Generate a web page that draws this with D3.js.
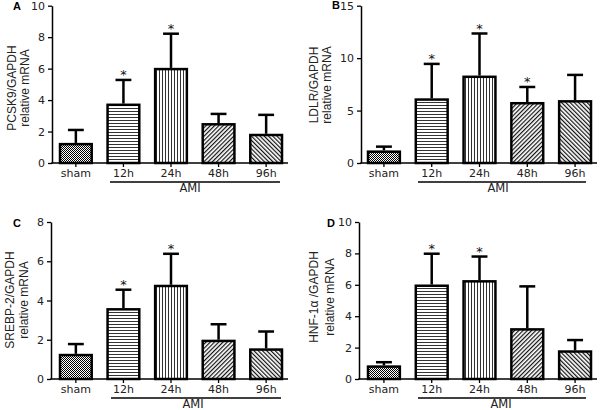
<!DOCTYPE html>
<html><head><meta charset="utf-8">
<script src="https://cdn.jsdelivr.net/npm/d3@7"></script>
<style>body{margin:0;background:#fff}svg{display:block}</style>
</head><body><svg id="c" width="600" height="410"></svg>
<script>
// ---- data ----
const categories = ["sham", "12h", "24h", "48h", "96h"];
const groupLabel = "AMI";

const meansA = [1.2, 3.7, 5.97, 2.46, 1.78];
const errTopA = [2.1, 5.28, 8.22, 3.12, 3.06];
const starsA = ["", "*", "*", "", ""];
const ticksA = [0, 2, 4, 6, 8, 10];

const meansB = [1.08, 6.05, 8.22, 5.7, 5.88];
const errTopB = [1.56, 9.45, 12.35, 7.25, 8.4];
const starsB = ["", "*", "*", "*", ""];
const ticksB = [0, 5, 10, 15];

const meansC = [1.22, 3.55, 4.74, 1.94, 1.5];
const errTopC = [1.78, 4.55, 6.38, 2.79, 2.42];
const starsC = ["", "*", "*", "", ""];
const ticksC = [0, 2, 4, 6, 8];

const meansD = [0.79, 5.94, 6.22, 3.16, 1.75];
const errTopD = [1.07, 7.98, 7.8, 5.9, 2.48];
const starsD = ["", "*", "*", "", ""];
const ticksD = [0, 2, 4, 6, 8, 10];

const patternIds = ["pChk", "pHor", "pVer", "pDiagA", "pDiagB"];

// ---- drawing ----
const svg = d3.select("#c");
const defs = svg.append("defs");

// checker
const pc = defs.append("pattern").attr("id", "pChk").attr("patternUnits", "userSpaceOnUse")
  .attr("width", 2).attr("height", 2);
pc.append("rect").attr("width", 2).attr("height", 2).attr("fill", "#fff");
pc.append("rect").attr("width", 1).attr("height", 1).attr("fill", "#000");
pc.append("rect").attr("x", 1).attr("y", 1).attr("width", 1).attr("height", 1).attr("fill", "#000");
// horizontal
const ph = defs.append("pattern").attr("id", "pHor").attr("patternUnits", "userSpaceOnUse")
  .attr("width", 4).attr("height", 3);
ph.append("rect").attr("width", 4).attr("height", 3).attr("fill", "#fff");
ph.append("line").attr("x1", 0).attr("x2", 4).attr("y1", 0.5).attr("y2", 0.5).attr("stroke", "#333").attr("stroke-width", 1);
// vertical
const pv = defs.append("pattern").attr("id", "pVer").attr("patternUnits", "userSpaceOnUse")
  .attr("width", 3).attr("height", 4);
pv.append("rect").attr("width", 3).attr("height", 4).attr("fill", "#fff");
pv.append("line").attr("y1", 0).attr("y2", 4).attr("x1", 0.5).attr("x2", 0.5).attr("stroke", "#333").attr("stroke-width", 1);
// diagonals
[["pDiagA", 45], ["pDiagB", -45]].forEach(([id, ang]) => {
  const p = defs.append("pattern").attr("id", id).attr("patternUnits", "userSpaceOnUse")
    .attr("width", 3).attr("height", 3).attr("patternTransform", `rotate(${ang})`);
  p.append("rect").attr("width", 3).attr("height", 3).attr("fill", "#fff");
  p.append("line").attr("y1", 0).attr("y2", 3).attr("x1", 0.6).attr("x2", 0.6).attr("stroke", "#111").attr("stroke-width", 1.2);
});

const panels = [
  {means: meansA, errs: errTopA, stars: starsA, ticks: ticksA, ymax: 10,
   axisX: 52, top: 5.7, bottom: 163, barL: 60, barR: 282, axisEnd: 288,
   ylab: ["PCSK9/GAPDH", "relative mRNA"], ylabX: [16, 29], ylabY: 88,
   letter: "A", lx: 13, ly: 10, amiL: 110, amiR: 280, amiX: 190},
  {means: meansB, errs: errTopB, stars: starsB, ticks: ticksB, ymax: 15,
   axisX: 361, top: 5.7, bottom: 163, barL: 368, barR: 591, axisEnd: 597,
   ylab: ["LDLR/GAPDH", "relative mRNA"], ylabX: [318, 331], ylabY: 85,
   letter: "B", lx: 332, ly: 9, amiL: 418, amiR: 586, amiX: 498},
  {means: meansC, errs: errTopC, stars: starsC, ticks: ticksC, ymax: 8,
   axisX: 51, top: 222, bottom: 379, barL: 60, barR: 282, axisEnd: 288,
   ylab: ["SREBP-2/GAPDH", "relative mRNA"], ylabX: [14, 28], ylabY: 300,
   letter: "C", lx: 13, ly: 227, amiL: 111, amiR: 281, amiX: 193},
  {means: meansD, errs: errTopD, stars: starsD, ticks: ticksD, ymax: 10,
   axisX: 359, top: 222, bottom: 379, barL: 368, barR: 591, axisEnd: 597,
   ylab: ["HNF-1\u03b1 /GAPDH", "relative mRNA"], ylabX: [318, 334], ylabY: 297,
   letter: "D", lx: 327, ly: 227, amiL: 418, amiR: 586, amiX: 501}
];

const tickFont = "'DejaVu Sans', Verdana, sans-serif";
const labFont = "'Liberation Sans', Arial, sans-serif";

panels.forEach(p => {
  const g = svg.append("g");
  const x = d3.scaleBand().domain(categories).range([p.barL, p.barR]).paddingInner(1 / 3).paddingOuter(0);
  const y = d3.scaleLinear().domain([0, p.ymax]).range([p.bottom, p.top]);
  const bw = x.bandwidth();

  // bars
  g.selectAll("rect.bar").data(categories).join("rect")
    .attr("x", d => x(d)).attr("width", bw)
    .attr("y", (d, i) => y(p.means[i])).attr("height", (d, i) => y(0) - y(p.means[i]))
    .attr("fill", (d, i) => `url(#${patternIds[i]})`)
    .attr("stroke", "#000").attr("stroke-width", 2.5);

  // error bars
  g.selectAll("line.err").data(categories).join("line")
    .attr("x1", d => x(d) + bw / 2).attr("x2", d => x(d) + bw / 2)
    .attr("y1", (d, i) => y(p.means[i]) - 1.2).attr("y2", (d, i) => y(p.errs[i]))
    .attr("stroke", "#000").attr("stroke-width", 2.5);
  g.selectAll("line.cap").data(categories).join("line")
    .attr("x1", d => x(d) + bw / 4).attr("x2", d => x(d) + bw * 3 / 4)
    .attr("y1", (d, i) => y(p.errs[i])).attr("y2", (d, i) => y(p.errs[i]))
    .attr("stroke", "#000").attr("stroke-width", 2.5);

  // stars
  g.selectAll("text.star").data(categories).join("text")
    .attr("x", d => x(d) + bw / 2).attr("y", (d, i) => y(p.errs[i]) - 0.5)
    .attr("text-anchor", "middle").attr("font-family", tickFont).attr("font-size", 13)
    .attr("fill", "#111").text((d, i) => p.stars[i]);

  // y axis
  const ya = d3.axisLeft(y).tickValues(p.ticks).tickSize(4).tickSizeOuter(0).tickPadding(3);
  const yg = g.append("g").attr("transform", `translate(${p.axisX},0)`).call(ya);
  yg.select(".domain").attr("stroke", "#000").attr("stroke-width", 1.5);
  yg.selectAll(".tick line").attr("stroke", "#000").attr("stroke-width", 1.3);
  yg.selectAll(".tick text").attr("font-family", tickFont).attr("font-size", 11).attr("fill", "#222");

  // x axis
  g.append("line").attr("x1", p.axisX - 0.75).attr("x2", p.axisEnd).attr("y1", p.bottom).attr("y2", p.bottom)
    .attr("stroke", "#000").attr("stroke-width", 1.5);
  const xa = d3.axisBottom(x).tickSize(4).tickSizeOuter(0).tickPadding(2);
  const xg = g.append("g").attr("transform", `translate(0,${p.bottom})`).call(xa);
  xg.select(".domain").remove();
  xg.selectAll(".tick line").attr("stroke", "#000").attr("stroke-width", 1.3);
  xg.selectAll(".tick text").attr("font-family", tickFont).attr("font-size", 11).attr("fill", "#222");

  // AMI group line + label
  g.append("line").attr("x1", p.amiL).attr("x2", p.amiR).attr("y1", p.bottom + 19).attr("y2", p.bottom + 19)
    .attr("stroke", "#000").attr("stroke-width", 1.3);
  g.append("text").attr("x", p.amiX).attr("y", p.bottom + 29).attr("text-anchor", "middle")
    .attr("font-family", tickFont).attr("font-size", 11.5).attr("fill", "#222").text(groupLabel);

  // y label
  p.ylab.forEach((t, i) => {
    g.append("text").attr("transform", `translate(${p.ylabX[i]},${p.ylabY}) rotate(-90)`)
      .attr("text-anchor", "middle").attr("font-family", labFont).attr("font-size", 12)
      .attr("fill", "#222").text(t);
  });

  // panel letter
  g.append("text").attr("x", p.lx).attr("y", p.ly).attr("font-family", labFont)
    .attr("font-weight", "bold").attr("font-size", 11).attr("fill", "#000").text(p.letter);
});
</script>
</body></html>
